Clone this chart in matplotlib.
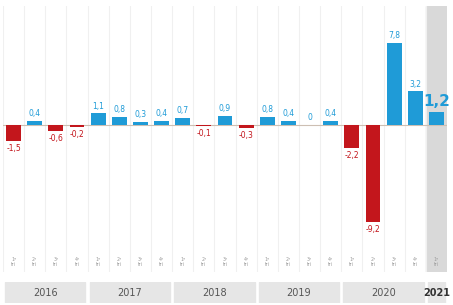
import numpy as np
import matplotlib
matplotlib.use("Agg")
import matplotlib.pyplot as plt

# quarterly change (%), 2016 Q1 .. 2021 Q1
values = [-1.5, 0.4, -0.6, -0.2,
          1.1, 0.8, 0.3, 0.4,
          0.7, -0.1, 0.9, -0.3,
          0.8, 0.4, 0.0, 0.4,
          -2.2, -9.2, 7.8, 3.2,
          1.2]
quarters = ["1º\ntri", "2º\ntri", "3º\ntri", "4º\ntri"] * 5 + ["1º\ntri"]
years = ["2016", "2017", "2018", "2019", "2020", "2021"]
year_counts = [4, 4, 4, 4, 4, 1]

W, H = 453, 305
fig = plt.figure(figsize=(W / 100, H / 100), dpi=100)
fig.patch.set_facecolor("white")

blue = "#1f9bd7"
red = "#c3161c"

x0, x1 = 3, 447          # pixel span of columns
ytop, ybot = 6, 272      # pixel span of chart area
zero_px, px_per_unit = 125, 10.5

ax = fig.add_axes([x0 / W, 1 - ybot / H, (x1 - x0) / W, (ybot - ytop) / H])
ax.set_xlim(-0.5, len(values) - 0.5)
ax.set_ylim(-(ybot - zero_px) / px_per_unit, (zero_px - ytop) / px_per_unit)
ax.axis("off")

x = np.arange(len(values))
# last column highlighted
ax.axvspan(len(values) - 1.5, len(values) - 0.5, color="#d9d9d9", zorder=0)
for b in np.arange(-0.5, len(values) - 1, 1.0):
    ax.axvline(b, color="#f0f0f0", lw=0.8, zorder=0)
ax.axhline(0, color="#cdbfb3", lw=0.8, zorder=1)

colors = [blue if v >= 0 else red for v in values]
ax.bar(x, values, width=0.7, color=colors, zorder=2)

for i, v in enumerate(values):
    lab = ("%.1f" % v).replace(".", ",") if v != 0 else "0"
    if i == len(values) - 1:
        ax.text(i, v + 0.3, lab, ha="center", va="bottom", fontsize=11,
                fontweight="bold", color=blue, zorder=3)
    elif v >= 0:
        ax.text(i, v + 0.25, lab, ha="center", va="bottom", fontsize=5.5,
                color=blue, zorder=3)
    else:
        ax.text(i, v - 0.3, lab, ha="center", va="top", fontsize=5.5,
                color=red, zorder=3)

ylab = -(262 - zero_px) / px_per_unit
for i, q in enumerate(quarters):
    ax.text(i, ylab, q, ha="center", va="center", fontsize=3.3,
            color="#9a9a9a", linespacing=1.1)

# year band
yax = fig.add_axes([x0 / W, 1 - 303 / H, (x1 - x0) / W, 21 / H])
yax.set_xlim(-0.5, len(values) - 0.5)
yax.set_ylim(0, 1)
yax.axis("off")
start = -0.5
for yr, n in zip(years, year_counts):
    yax.axvspan(start + 0.1, start + n - 0.1, color="#e6e6e6")
    yax.text(start + n / 2, 0.5, yr, ha="center", va="center", fontsize=7,
             color="#333333" if yr == "2021" else "#555555",
             fontweight="bold" if yr == "2021" else "normal")
    start += n

fig.savefig("out.png", dpi=100)
